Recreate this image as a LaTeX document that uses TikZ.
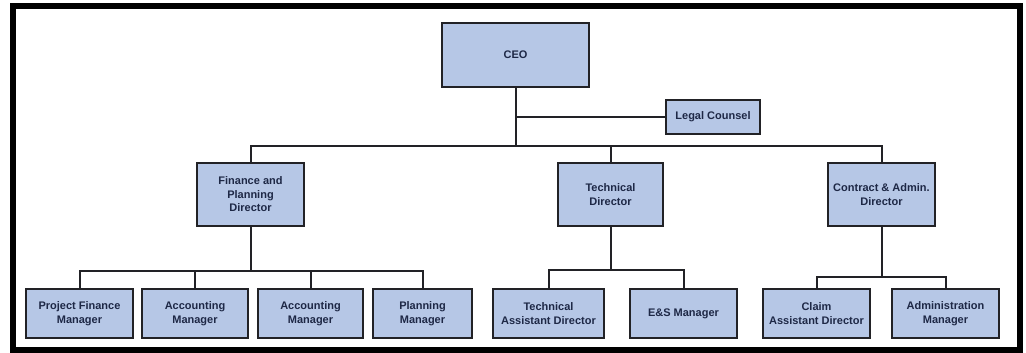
\documentclass[tikz,border=0pt]{standalone}
\usepackage{fontspec}
\setmainfont{Liberation Sans}
\usetikzlibrary{calc}
\definecolor{boxfill}{RGB}{182,199,230}
\definecolor{boxline}{RGB}{34,34,38}
\definecolor{boxtext}{RGB}{30,40,70}
\tikzset{
  unit/.style={draw=boxline, line width=2pt, fill=boxfill, align=center,
    text=boxtext, font=\bfseries\fontsize{11}{13.5}\selectfont, inner sep=1pt},
  link/.style={draw=boxline, line width=2pt},
}
\begin{document}
\begin{tikzpicture}[x=1pt, y=-1pt]
\useasboundingbox (0,0) rectangle (1026,353);
\fill[white] (0,0) rectangle (1026,353);
% outer frame
\draw[black, line width=6pt] (13,6) rectangle (1019.5,349.5);

% top level
\node[unit, minimum width=147pt, minimum height=64pt] (ceo) at (515.5,55) {CEO};
\node[unit, minimum width=94pt, minimum height=34pt] (legal) at (713,117) {Legal Counsel};

% directors
\node[unit, minimum width=107pt, minimum height=63pt] (fin) at (250.5,194.5) {Finance and\\Planning\\Director};
\node[unit, minimum width=105pt, minimum height=63pt] (tech) at (610.5,194.5) {Technical\\Director};
\node[unit, minimum width=107pt, minimum height=63pt] (cad) at (881.5,194.5) {Contract \& Admin.\\Director};

% managers
\tikzset{mgr/.style={unit, minimum height=49pt}}
\node[mgr, minimum width=107pt] (pfm) at (79.5,313.5) {Project Finance\\Manager};
\node[mgr, minimum width=106pt] (acc1) at (195,313.5) {Accounting\\Manager};
\node[mgr, minimum width=105pt] (acc2) at (310.5,313.5) {Accounting\\Manager};
\node[mgr, minimum width=99pt] (plan) at (422.5,313.5) {Planning\\Manager};
\node[mgr, minimum width=111pt] (tad) at (548.5,313.5) {Technical\\Assistant Director};
\node[mgr, minimum width=107pt] (es) at (683.5,313.5) {E\&S Manager};
\node[mgr, minimum width=107pt] (claim) at (816.5,313.5) {Claim\\Assistant Director};
\node[mgr, minimum width=107pt] (admin) at (945.5,313.5) {Administration\\Manager};

% bus lines
\coordinate (topbus) at (515.5,146);
\coordinate (finbus) at (250.5,271);
\coordinate (techbus) at (610.5,270);
\coordinate (cadbus) at (881.5,277);

% CEO to directors and legal counsel
\draw[link] (ceo.south) -- (topbus);
\draw[link] (ceo.south |- legal.west) -- (legal.west);
\draw[link] (fin.north) |- (topbus) -| (cad.north);
\draw[link] (tech.north) -- (tech.north |- topbus);

% finance branch
\draw[link] (fin.south) -- (finbus);
\draw[link] (pfm.north) |- (finbus) -| (plan.north);
\draw[link] (acc1.north) -- (acc1.north |- finbus);
\draw[link] (acc2.north) -- (acc2.north |- finbus);

% technical branch
\draw[link] (tech.south) -- (techbus);
\draw[link] (tad.north) |- (techbus) -| (es.north);

% contract branch
\draw[link] (cad.south) -- (cadbus);
\draw[link] (claim.north) |- (cadbus) -| (admin.north);
\end{tikzpicture}
\end{document}
